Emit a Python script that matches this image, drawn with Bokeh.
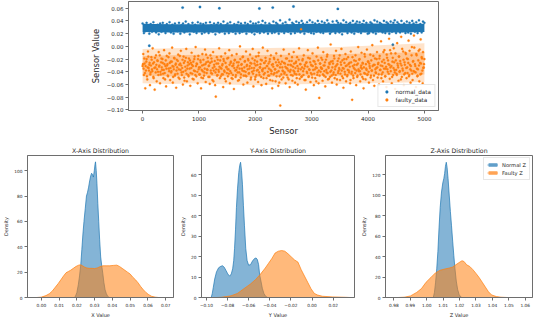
import numpy as np
from bokeh.plotting import figure
from bokeh.layouts import column, row
from bokeh.models import Range1d, FixedTicker, Legend, LegendItem
from bokeh.embed import file_html
from bokeh.resources import INLINE

# ---------------- data: top scatter (values in units of 1e-3) ----------------
# two interleaved subsamples of the faulty series
faulty_data_milli_a = [
    -31,-12,-45,-27,-66,-38,-20,-52,-8,-34,-29,-61,-41,-17,
    -36,-3,-48,-25,-68,-33,-14,-55,-22,-40,-9,-30,-58,-44,
    -19,-37,-26,-50,-6,-42,-31,-63,-15,-28,-47,-35,-11,-53,
    -24,-39,-2,-57,-32,-18,-46,-29,-65,-21,-43,-13,-36,-51,
    -27,-7,-41,-34,-60,-16,-49,-23,-38,-4,-55,-30,-45,-19,
    -35,-62,-26,-10,-43,-31,-52,-20,-39,-1,-47,-28,-58,-15,
    -33,-44,-22,-66,-37,-12,-50,-29,-41,-5,-56,-25,-36,-18,
    -48,-30,-59,-14,-42,-24,-53,-9,-38,-32,-61,-79,-27,-46,
    -21,-37,-3,-50,-34,-16,-44,-28,-64,-23,-40,-11,-55,-32,
    -19,-47,-36,-6,-58,-26,-42,-14,-51,-30,-67,-22,-38,-45,
    -12,-33,-54,-25,-41,0,-49,-29,-35,-17,-60,-39,-24,-46,
    -8,-31,-57,-20,-43,-35,-13,-52,-27,-40,-4,-63,-34,-22,
    -48,-16,-38,-29,-56,-10,-45,-33,-21,-61,-37,-2,-50,-26,
    -42,-18,-59,-31,-7,-46,-35,-24,-53,-14,-39,-66,-28,-44,
    -20,-36,-55,-11,-41,-30,-62,-25,-47,-93,-15,-52,-33,-39,
    -5,-43,-27,-58,-34,-19,-49,-38,-12,-64,-29,-45,-23,-54,
    -32,-9,-40,-57,-26,-44,-17,-60,-35,-3,-51,-28,27,-47,
    -22,-39,-14,-53,-31,-68,-25,-42,-6,-48,-36,-19,-56,-29,
    -44,-11,-37,-61,-24,-50,-33,-16,-45,-2,-58,-81,-27,-40,
    -18,-35,-54,-9,-46,-30,-63,-21,-41,-13,-52,-34,-26,-48,
    3,-38,-57,-23,-44,-15,-50,-32,-7,-60,-28,-42,-19,-36,
    -53,-25,-4,-47,-34,-65,-20,-40,-12,-55,-30,-45,-17,-38,
    -26,-58,-8,-43,-84,-31,-50,-22,-36,-14,-61,-29,-46,-1,
    -39,-20,-55,-33,-10,-48,-27,-66,-42,-16,-52,-35,-5,-44,
    -24,-57,-31,-13,-46,-38,2,-53,-29,-62,-19,-41,-34,-9,
    -49,-26,-60,-15,-37,8,-44,-31,-55,-21,-6,-47,-35,-64,
    -18,-40,-28,12,-51,-33,-11,-58,-24,-45,-3,-37,-67,-22,
    -43,5,-30,-54,-16,-39,-27,15,-48,-35,-8,-61,-25,-42,
    -12,-50,-33,-20,9,-45,-29,-57,-38,-1,-53,-23,17,-40,
    -31,-64,-14,-47,-36,-7,-55,-26,11,-43,-19,-58,-34,-28,
]
faulty_data_milli_b = [
    -28,-35,-19,-42,-31,-24,-47,-33,-16,-38,-26,-44,-30,-21,
    -39,-27,-50,-34,-18,-41,-29,-36,-23,-45,-32,-14,-40,-25,
    -33,-20,-43,-37,-28,-52,-22,-35,-30,-46,-17,-39,-26,-34,
    -41,-24,-31,-48,-36,-19,-44,-27,-38,-33,-23,-49,-29,-15,
    -37,-30,-45,-21,-40,-26,-54,-32,-18,-43,-35,-25,-47,-28,
    -22,-42,-34,-29,-51,-24,-38,-16,-45,-31,-27,-40,-20,-36,
    -44,-33,-25,-49,-30,-39,-21,-46,-35,-28,-13,-42,-37,-24,
    -31,-48,-26,-38,-19,-43,-34,-55,-29,-23,-41,-36,-17,-45,
    -27,-40,-32,-22,-47,-35,-30,-44,-20,-38,-51,-26,-33,-42,
    -36,-18,-43,-29,-39,-24,-50,-31,-45,-27,-34,-21,-48,-37,
    -25,-41,-30,-53,-35,-20,-44,-28,-38,-16,-46,-33,-23,-40,
    -47,-29,-36,-22,-42,-31,-26,-49,-34,-19,-43,-38,-27,-52,
    -30,-45,-24,-37,-15,-41,-33,-28,-48,-22,-39,-35,-44,-26,
    -34,-23,-50,-31,-40,-27,-46,-20,-37,-43,-29,-54,-32,-18,
    -42,-36,-25,-47,-30,-21,-39,-57,-33,-28,-44,-24,-38,-49,
    -26,-41,-32,-19,-45,-35,-29,-52,-23,-40,-37,-30,-17,-46,
    -38,-27,-43,-34,-24,-50,-31,-39,-21,-44,-28,-36,-48,-33,
    -20,-45,-35,-29,-53,-26,-40,-32,-18,-47,-37,-25,-42,-30,
    -49,-31,-23,-43,-36,-28,-55,-34,-41,-22,-38,-46,-27,-33,
    -35,-21,-44,-30,-39,-25,-48,-37,-16,-42,-32,-51,-28,-40,
    -24,-46,-33,-27,-41,-19,-36,-45,-30,-52,-23,-39,-34,-14,
    -43,-29,-38,-22,-50,-35,-26,-44,-31,-20,-47,-37,-28,-41,
    -32,-53,-25,-40,-17,-46,-34,-29,-42,-23,-38,-48,-27,-36,
    -21,-39,-44,-30,-35,-26,-51,-33,-12,-43,-28,-37,-45,-24,
    -40,-27,-34,-49,-22,-38,-31,-15,-46,-29,-36,-42,-20,-33,
    -28,-44,-19,-37,-30,-50,-24,-41,-9,-35,-26,-47,-32,-13,
    -36,-22,-43,-29,-6,-39,-31,-48,-18,-34,-25,-41,-11,-37,
    -45,-27,-33,-16,-40,-23,-52,-30,-4,-38,-21,-44,-29,-10,
    -34,-19,-42,-26,-47,-7,-36,-31,-14,-43,-24,-39,-2,-28,
    -41,-12,-35,-46,-22,-30,-5,-44,-27,-17,-38,-9,-33,-20,
]
normal_data_milli = [
    36,21,24,37,33,20,35,23,38,26,22,34,19,36,
    23,37,30,21,35,25,38,22,34,20,36,28,24,37,
    20,33,36,22,39,24,35,19,31,37,23,34,21,38,
    25,36,20,35,22,37,27,21,38,33,23,36,19,34,
    37,22,35,24,39,20,33,36,21,38,26,23,35,20,
    34,38,21,36,23,30,37,20,35,24,39,22,36,19,
    36,23,38,21,34,40,22,37,25,20,36,33,21,39,
    22,37,35,20,41,24,36,21,38,34,23,42,20,37,
    35,21,39,24,37,22,40,36,20,34,38,23,41,21,
    38,20,36,23,40,35,22,39,21,37,24,41,36,20,
    23,39,34,21,40,37,22,36,19,41,25,38,21,35,
    37,22,40,20,36,39,23,38,21,35,40,24,37,20,
    21,38,36,22,41,20,39,24,37,35,22,40,21,38,
    36,20,39,23,37,41,21,38,35,22,40,24,36,21,
    39,22,37,20,40,36,23,38,21,41,35,22,39,37,
]
normal_outlier_sensor = [119, 710, 1018, 1362, 2072, 2309, 2677, 3464, 4440]
normal_outlier_value = [0.001, 0.061, 0.062, 0.060, 0.0596, 0.061, 0.0628, 0.059, 0.0025]

# dense regions of the two point clouds (sensor index, lower, upper; units 1e-3)
core_sensor = [0, 500, 1000, 1500, 2000, 2500, 3000, 3500, 4000, 4500, 5000]
normal_core_low = [22.5, 22, 22, 22, 22, 22, 22, 22, 22, 22, 22.5]
normal_core_high = [35.5, 35, 35, 35, 35, 35, 35.5, 35.5, 36, 35.5, 35.5]
faulty_outer_low = [-58, -59, -58, -60, -61, -60, -59, -59, -58, -57, -56]
faulty_outer_high = [-4, -3, -2, -3, -3, -2, -2, -1, 1, 3, 5]
faulty_core_low = [-46, -47, -46, -47, -48, -47, -46, -46, -45, -45, -44]
faulty_core_high = [-15, -14, -13, -14, -14, -13, -13, -12, -11, -10, -9]

# ---------------- data: density curves ----------------
x_norm_x = [0.0185,0.0192,0.0200,0.0208,0.0215,0.0222,0.0228,0.0234,0.0240,0.0247,0.0254,0.0260,
            0.0266,0.0272,0.0278,0.0283,0.0288,0.0293,0.0298,0.0302,0.0305,0.0309,0.0313,0.0318,
            0.0323,0.0328,0.0334,0.0340,0.0346,0.0352,0.0359,0.0366,0.0373,0.0382]
x_norm_d = [0,1,4,10,17,26,38,50,60,70,80,83,87,92,96,98,97,95,100,105,107,100,90,74,60,46,32,25,19,12,6,3,1,0]
x_fault_x = [-0.0026,0.0000,0.0026,0.0045,0.0061,0.0078,0.0095,0.0110,0.0125,0.0139,0.0152,0.0165,0.0180,
             0.0195,0.0210,0.0220,0.0232,0.0243,0.0256,0.0270,0.0285,0.0300,0.0315,0.0330,0.0347,0.0365,
             0.0385,0.0405,0.0425,0.0440,0.0455,0.0470,0.0485,0.0500,0.0515,0.0530,0.0545,0.0560,0.0575,
             0.0590,0.0605,0.0620,0.0640,0.0660]
x_fault_d = [0,0.3,1.5,3,5,8,11,14,17,19.5,20.5,21.5,23,24.5,25.5,25.8,25,24,23.3,23,23,22.8,23.3,24.3,25,25,
             25,25.3,25.5,24.5,23,21.5,20,18.5,16,14,11.5,8.5,6,3.8,2.2,1,0.3,0]

y_norm_x = [-0.0955,-0.0945,-0.0935,-0.0922,-0.0905,-0.0885,-0.0865,-0.0848,-0.0832,-0.0815,-0.0798,-0.0780,
            -0.0765,-0.0752,-0.0742,-0.0734,-0.0725,-0.0716,-0.0706,-0.0694,-0.0685,-0.0677,-0.0668,-0.0659,
            -0.0650,-0.0640,-0.0628,-0.0615,-0.0601,-0.0583,-0.0564,-0.0545,-0.0530,-0.0518,-0.0506,-0.0496,
            -0.0484,-0.0471,-0.0456,-0.0440,-0.0420]
y_norm_d = [0,2,5,9,12.5,14.5,15.2,15.5,14.8,13.2,11.5,10.4,11.5,14,18,24,33,44,53,61,64.5,66,62,55,45,35,24,
            18,15.8,16,17.8,19,19.3,18.5,16,11,8,4.5,2,0.6,0]
y_fault_x = [-0.0900,-0.0861,-0.0768,-0.0706,-0.0645,-0.0583,-0.0536,-0.0490,-0.0443,-0.0412,-0.0381,-0.0350,
             -0.0319,-0.0288,-0.0258,-0.0227,-0.0196,-0.0165,-0.0134,-0.0103,-0.0072,-0.0041,-0.0010,0.0021,
             0.0052,0.0099,0.0191,0.0315,0.0362]
y_fault_d = [0,0.1,0.8,2,4.3,6.6,8.7,11.3,14.4,16.7,19,21.7,22.6,22.9,22.6,21.3,19.8,18.3,17.3,13.6,10.5,7.4,
             4.3,2,1.2,0.6,0.3,0.1,0]

z_norm_x = [1.0040,1.0047,1.0054,1.0061,1.0068,1.0075,1.0082,1.0090,1.0098,1.0104,1.0109,1.0114,1.0119,
            1.0124,1.0130,1.0137,1.0144,1.0151,1.0158,1.0165,1.0172,1.0180,1.0188,1.0197,1.0207,1.0215]
z_norm_d = [0,5,15,28,45,68,88,103,112,116,121,128,132,127,116,100,84,70,55,41,28,16,8,3,0.5,0]
z_fault_x = [0.9825,0.9863,0.9901,0.9939,0.9968,0.9996,1.0025,1.0053,1.0082,1.0110,1.0139,1.0158,1.0177,
             1.0196,1.0215,1.0228,1.0243,1.0262,1.0281,1.0300,1.0319,1.0338,1.0357,1.0376,1.0395,1.0424,
             1.0452,1.0490]
z_fault_d = [0,0.3,1.5,5,8.7,14.9,19.5,24,26.6,27.8,28.8,29.7,31.9,34,35.9,35,31.9,30.3,27.2,23.5,19.5,14.9,
             10.2,5.6,2.5,0.9,0.3,0]

# ticks
top_xticks = [0, 1000, 2000, 3000, 4000, 5000]
top_yticks = [-0.10, -0.08, -0.06, -0.04, -0.02, 0.00, 0.02, 0.04, 0.06]
x_xticks = [0.00, 0.01, 0.02, 0.03, 0.04, 0.05, 0.06, 0.07]
x_yticks = [0, 20, 40, 60, 80, 100]
y_xticks = [-0.10, -0.08, -0.06, -0.04, -0.02, 0.00, 0.02]
y_yticks = [0, 10, 20, 30, 40, 50, 60]
z_xticks = [0.98, 0.99, 1.00, 1.01, 1.02, 1.03, 1.04, 1.05, 1.06]
z_yticks = [0, 20, 40, 60, 80, 100, 120]

BLUE = "#1f77b4"
ORANGE = "#ff7f0e"
FONT = "DejaVu Sans"
SPINE = "#6e6e6e"
TXT = "#262626"


def fmt(v, nd):
    s = f"{v:.{nd}f}"
    if s.startswith("-"):
        s = "\u2212" + s[1:]
    return s


def style(p, xt, yt, xnd, ynd, tick_fs, label_fs):
    p.xgrid.visible = False
    p.ygrid.visible = False
    p.outline_line_color = SPINE
    p.outline_line_width = 1
    p.background_fill_color = "white"
    p.border_fill_color = "white"
    p.xaxis.ticker = FixedTicker(ticks=xt)
    p.yaxis.ticker = FixedTicker(ticks=yt)
    p.xaxis.major_label_overrides = {v: fmt(v, xnd) for v in xt}
    p.yaxis.major_label_overrides = {v: fmt(v, ynd) for v in yt}
    for ax in (p.xaxis[0], p.yaxis[0]):
        ax.axis_line_color = SPINE
        ax.major_tick_line_color = SPINE
        ax.major_tick_out = 3
        ax.major_tick_in = 0
        ax.minor_tick_out = 0
        ax.minor_tick_in = 0
        ax.major_label_text_font = FONT
        ax.major_label_text_font_size = tick_fs
        ax.major_label_text_color = TXT
        ax.major_label_standoff = 2
        ax.axis_label_text_font = FONT
        ax.axis_label_text_font_size = label_fs
        ax.axis_label_text_font_style = "normal"
        ax.axis_label_text_color = TXT
        ax.axis_label_standoff = 2


# ---------------- top scatter ----------------
top = figure(width=534, height=138, output_backend="svg", toolbar_location=None,
             x_range=Range1d(-250, 5250), y_range=Range1d(-0.1008, 0.0706),
             min_border_left=128, min_border_right=96, min_border_top=1, min_border_bottom=22)
style(top, top_xticks, top_yticks, 0, 2, "5.5px", "8.4px")
top.xaxis.axis_label = "Sensor"
top.yaxis.axis_label = "Sensor Value"
top.yaxis.axis_label_standoff = 3

core_x = np.array(core_sensor, dtype=float)
top.varea(x=core_x, y1=np.array(normal_core_low) / 1000, y2=np.array(normal_core_high) / 1000,
          fill_color=BLUE, fill_alpha=1.0)
nv = np.array(normal_data_milli) / 1000.0
nx = np.arange(len(nv)) * (4999.0 / (len(nv) - 1))
r_norm = top.scatter(nx, nv, size=2.2, fill_color=BLUE, line_color=BLUE, line_width=0.3)
top.scatter(normal_outlier_sensor, normal_outlier_value, size=2.4, fill_color=BLUE,
            line_color=BLUE, line_width=0.3)
top.varea(x=core_x, y1=np.array(faulty_outer_low) / 1000, y2=np.array(faulty_outer_high) / 1000,
          fill_color=ORANGE, fill_alpha=0.22)
top.varea(x=core_x, y1=np.array(faulty_core_low) / 1000, y2=np.array(faulty_core_high) / 1000,
          fill_color=ORANGE, fill_alpha=0.3)
fv = np.ravel(np.column_stack([faulty_data_milli_a, faulty_data_milli_b])) / 1000.0
fx = np.arange(len(fv)) * (4999.0 / (len(fv) - 1))
r_fault = top.scatter(fx, fv, size=2.2, fill_color=ORANGE, line_color=ORANGE, line_width=0.3)

leg = Legend(items=[LegendItem(label="normal_data", renderers=[r_norm]),
                    LegendItem(label="faulty_data", renderers=[r_fault])],
             location="bottom_right")
leg.label_text_font = FONT
leg.label_text_font_size = "5.7px"
leg.label_text_color = TXT
leg.glyph_width = 10
leg.glyph_height = 7
leg.label_height = 7
leg.label_standoff = 4
leg.spacing = 1
leg.padding = 3
leg.margin = 3
leg.border_line_color = "#d0d0d0"
leg.border_line_width = 1
leg.background_fill_alpha = 0.85
top.add_layout(leg)


# ---------------- bottom density plots ----------------
def kde_fig(width, left, right, xr, yr, title, xlabel, xt, yt, xnd):
    p = figure(width=width, height=182, output_backend="svg", toolbar_location=None,
               x_range=Range1d(*xr), y_range=Range1d(*yr),
               min_border_left=left, min_border_right=right, min_border_top=17, min_border_bottom=17)
    style(p, xt, yt, xnd, 0, "4.3px", "5px")
    p.title.text = title
    p.title.text_font = FONT
    p.title.text_font_size = "6.2px"
    p.title.text_font_style = "normal"
    p.title.text_color = TXT
    p.title.align = "center"
    p.title.standoff = 3
    p.xaxis.axis_label = xlabel
    p.yaxis.axis_label = "Density"
    return p


def kde(p, xs, ds, color):
    a = p.varea(x=xs, y1=0, y2=ds, fill_color=color, fill_alpha=0.55)
    l = p.line(xs, ds, line_color=color, line_alpha=0.7, line_width=1)
    return [a, l]


fx1 = kde_fig(177, 21, 4, (-0.0078, 0.0744), (0, 112), "X-Axis Distribution", "X Value",
              x_xticks, x_yticks, 2)
kde(fx1, x_norm_x, x_norm_d, BLUE)
kde(fx1, x_fault_x, x_fault_d, ORANGE)

fy1 = kde_fig(181, 22, 4, (-0.1047, 0.0402), (0, 69.3), "Y-Axis Distribution", "Y Value",
              y_xticks, y_yticks, 2)
kde(fy1, y_norm_x, y_norm_d, BLUE)
kde(fy1, y_fault_x, y_fault_d, ORANGE)

fz1 = kde_fig(176, 23, 2, (0.9749, 1.0644), (0, 138.6), "Z-Axis Distribution", "Z Value",
              z_xticks, z_yticks, 2)
rn = kde(fz1, z_norm_x, z_norm_d, BLUE)
rf = kde(fz1, z_fault_x, z_fault_d, ORANGE)
zleg = Legend(items=[LegendItem(label="Normal Z", renderers=rn),
                     LegendItem(label="Faulty Z", renderers=rf)],
              location="top_right")
zleg.label_text_font = FONT
zleg.label_text_font_size = "5.2px"
zleg.label_text_color = TXT
zleg.glyph_width = 11
zleg.glyph_height = 5
zleg.label_height = 7
zleg.label_standoff = 4
zleg.spacing = 1
zleg.padding = 3
zleg.margin = 2
zleg.border_line_color = "#d0d0d0"
zleg.border_line_width = 1
zleg.background_fill_alpha = 0.85
fz1.add_layout(zleg)

layout = column(top, row(fx1, fy1, fz1, spacing=0), spacing=0)
open("out.html", "w").write(file_html(layout, INLINE))
